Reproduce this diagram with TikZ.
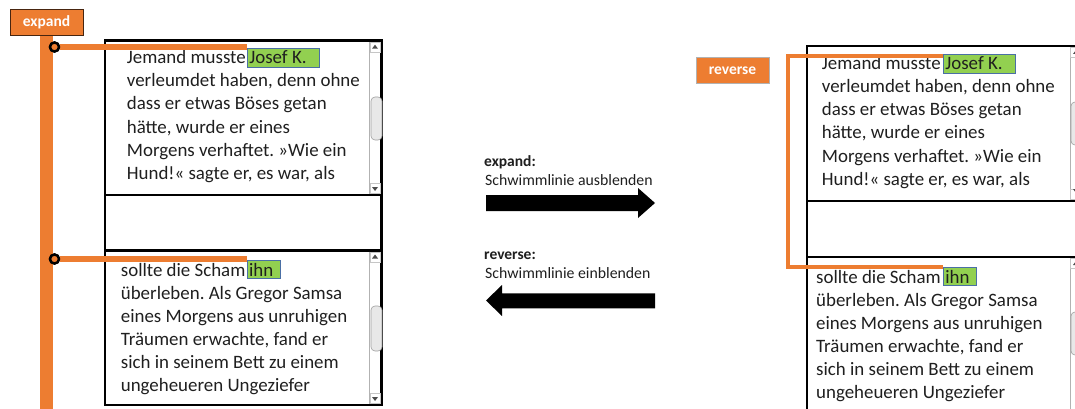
\documentclass[tikz,border=0pt]{standalone}
\usepackage{fontspec}
\setmainfont{Carlito}
\frenchspacing
\definecolor{swim}{HTML}{ED7D31}
\definecolor{hlgreen}{HTML}{92D050}
\definecolor{hledge}{HTML}{4A6FA5}
\definecolor{ink}{HTML}{1F1F1F}
\definecolor{thumbfill}{HTML}{E8E8E8}
\definecolor{thumbedge}{HTML}{A0A0A0}
\begin{document}
\begin{tikzpicture}[x=1pt,y=-1pt,
  panel/.style={draw=black, line width=2.4pt, fill=white, inner sep=0pt, outer sep=0pt, anchor=north west},
  txt/.style={font=\fontsize{18.9}{23}\selectfont, text=ink, inner sep=0pt, anchor=base west},
  hl/.style={draw=hledge, line width=0.8pt, fill=hlgreen, inner sep=0pt, text height=15.5pt, text depth=3pt,
             anchor=base west, font=\fontsize{18.9}{23}\selectfont, text=ink},
  tag/.style={fill=swim, text=white, font=\bfseries\fontsize{15.5}{18}\selectfont,
              minimum width=73pt, minimum height=26pt, inner sep=0pt},
  knob/.style={circle, draw=black, line width=2.4pt, fill=swim, minimum size=9pt, inner sep=0pt},
  lane/.style={draw=swim, line width=6pt},
  thinlane/.style={draw=swim, line width=3.5pt},
  headline/.style={font=\bfseries\fontsize{15.5}{19}\selectfont, text=ink, inner sep=0pt, anchor=base west},
  subline/.style={font=\fontsize{15.8}{19}\selectfont, text=ink, inner sep=0pt, anchor=base west},
  thumb/.style={draw=thumbedge, fill=thumbfill, line width=0.6pt, rounded corners=4pt},
  rail/.style={draw=gray!60, line width=0.6pt},
  btn/.style={draw=gray!45, line width=0.6pt},
  tri/.style={fill=ink!80}
]
\useasboundingbox (0,0) rectangle (1075,409);
\clip (0,0) rectangle (1075,409);
\fill[white] (0,0) rectangle (1075,409);

% ---------------- left: swimlane shown ----------------
\fill[swim] (40,35) rectangle (53,409);
\node[tag, draw=black!70!swim, line width=0.8pt] (tagE) at (46.5,22) {expand};

\node[panel, minimum width=276.5pt, minimum height=154.3pt] (bl1) at (105,40.7) {};
\node[panel, minimum width=276.5pt, minimum height=55.5pt]  (blm) at (105,195) {};
\node[panel, minimum width=276.5pt, minimum height=154.5pt] (bl2) at (105,250.5) {};

% scroll columns
\foreach \b in {bl1,bl2}{
  \draw[rail] ([xshift=-12pt,yshift=-1.2pt]\b.north east) -- ([xshift=-12pt,yshift=1.2pt]\b.south east);
  \draw[btn] ([xshift=-11.5pt,yshift=-1.5pt]\b.north east) rectangle ([xshift=-1.5pt,yshift=-11.5pt]\b.north east);
  \draw[btn] ([xshift=-11.5pt,yshift=1.5pt]\b.south east) rectangle ([xshift=-1.5pt,yshift=11.5pt]\b.south east);
  \fill[tri] ([xshift=-6.5pt,yshift=-4pt]\b.north east) -- ++(-3pt,-4pt) -- ++(6pt,0pt) -- cycle;
  \fill[tri] ([xshift=-6.5pt,yshift=4pt]\b.south east) -- ++(-3pt,4pt) -- ++(6pt,0pt) -- cycle;
}
\draw[thumb] (371,97) rectangle (382,140);
\draw[thumb] (371,306) rectangle (382,351);

% text of the first panel
\node[txt] (a1) at (126.7,64) {Jemand musste};
\node[hl, xshift=1pt] (hl1) at (a1.base east) {\kern2pt Josef K.\kern13pt};
\node[txt] (a2) at (126.7,87)  {verleumdet haben, denn ohne};
\node[txt] (a3) at (126.7,110) {dass er etwas Böses getan};
\node[txt] (a4) at (126.7,133) {hätte, wurde er eines};
\node[txt] (a5) at (126.7,156) {Morgens verhaftet. »Wie ein};
\node[txt] (a6) at (126.7,179) {Hund!« sagte er, es war, als};

% text of the second panel
\node[txt] (b1) at (120.7,276) {sollte die Scham};
\node[hl, xshift=1pt, text depth=2.5pt] (hl2) at (b1.base east) {\kern2pt ihn\kern7pt};
\node[txt] (b2) at (120.7,299) {überleben. Als Gregor Samsa};
\node[txt] (b3) at (120.7,322) {eines Morgens aus unruhigen};
\node[txt] (b4) at (120.7,345) {Träumen erwachte, fand er};
\node[txt] (b5) at (120.7,368) {sich in seinem Bett zu einem};
\node[txt] (b6) at (120.7,391) {ungeheueren Ungeziefer};

% lane connectors
\node[knob] (k1) at (54.5,47) {};
\node[knob] (k2) at (54.5,259) {};
\draw[lane] (k1) -- (k1 -| hl1.west);
\draw[lane] (k2) -- (k2 -| hl2.west);
\node[knob] at (k1) {};
\node[knob] at (k2) {};

% ---------------- middle: transitions ----------------
\node[headline] (capE) at (484,166) {expand:};
\node[subline] (subE) at (485,185) {Schwimmlinie ausblenden};
\fill[black] (486,195) -- (638,195) -- (638,188) -- (655,203) -- (638,218) -- (638,211) -- (486,211) -- cycle;

\node[headline] (capR) at (484,259.3) {reverse:};
\node[subline] (subR) at (485,278.3) {Schwimmlinie einblenden};
\fill[black] (655,293.3) -- (502,293.3) -- (502,285) -- (486,300.5) -- (502,316) -- (502,308.3) -- (655,308.3) -- cycle;

% ---------------- right: swimlane hidden ----------------
\node[tag, draw=gray!60, line width=1pt] (tagR) at (732.5,70.5) {reverse};

\node[panel, minimum width=280pt, minimum height=154.7pt] (br1) at (806.7,46) {};
\node[panel, minimum width=280pt, minimum height=56pt]    (brm) at (806.7,200.7) {};
\node[panel, minimum width=280pt, minimum height=170pt]   (br2) at (806.7,256.7) {};

\draw[rail] (1070,47) -- (1070,199.5);
\draw[rail] (1070,258) -- (1070,409);
\draw[btn] (1070.5,47.5) rectangle (1081,57.5);
\draw[btn] (1070.5,189) rectangle (1081,199);
\draw[btn] (1070.5,258) rectangle (1081,268);
\fill[tri] (1076,50) -- ++(-3pt,-4pt) -- ++(6pt,0pt) -- cycle;
\fill[tri] (1076,193) -- ++(-3pt,4pt) -- ++(6pt,0pt) -- cycle;
\fill[tri] (1076,261) -- ++(-3pt,-4pt) -- ++(6pt,0pt) -- cycle;
\draw[thumb] (1071,102) rectangle (1082,145);
\draw[thumb] (1071,312) rectangle (1082,355);

\node[txt] (c1) at (821.7,70)  {Jemand musste};
\node[hl, xshift=2pt] (hr1) at (c1.base east) {\kern2pt Josef K.\kern13pt};
\node[txt] (c2) at (821.7,93)  {verleumdet haben, denn ohne};
\node[txt] (c3) at (821.7,116) {dass er etwas Böses getan};
\node[txt] (c4) at (821.7,139) {hätte, wurde er eines};
\node[txt] (c5) at (821.7,162) {Morgens verhaftet. »Wie ein};
\node[txt] (c6) at (821.7,185) {Hund!« sagte er, es war, als};

\node[txt] (d1) at (816,283) {sollte die Scham};
\node[hl, xshift=2pt, text depth=2.5pt] (hr2) at (d1.base east) {\kern2pt ihn\kern7pt};
\node[txt] (d2) at (816,306) {überleben. Als Gregor Samsa};
\node[txt] (d3) at (816,329) {eines Morgens aus unruhigen};
\node[txt] (d4) at (816,352) {Träumen erwachte, fand er};
\node[txt] (d5) at (816,375) {sich in seinem Bett zu einem};
\node[txt] (d6) at (816,398) {ungeheueren Ungeziefer};

% the lane collapsed into a bracket between the two anchors
\coordinate (bend) at (788,0);
\draw[thinlane] ([yshift=-2pt]hr1.north west) -- ([yshift=-2pt]hr1.north west -| bend)
  |- (hr2.north west);
\end{tikzpicture}
\end{document}
